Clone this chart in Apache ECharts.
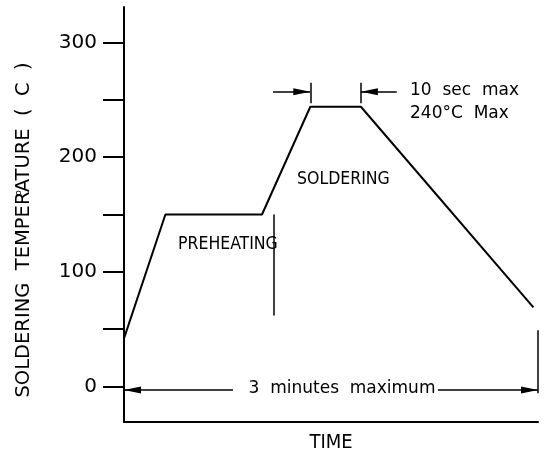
<!DOCTYPE html>
<html lang="en">
  <head>
    <meta charset="UTF-8" />
    <title>Soldering profile</title>
    <script src="https://cdn.jsdelivr.net/npm/echarts@6.0.0/dist/echarts.min.js"></script>
    <style>
      html, body { margin: 0; padding: 0; background: #fff; }
      #main { width: 547px; height: 454px; }
    </style>
  </head>
  <body>
    <div id="main"></div>
    <script>
      // profile (schematic time in seconds, temperature in C)
      const profileTime = [0, 18, 60, 81, 103, 178];
      const profileTemp = [42, 150, 150, 244, 244, 69];

      const yTicks = [0, 50, 100, 150, 200, 250, 300];
      const yLabels = [0, 100, 200, 300];

      // dimension lines: [x1, y1, x2, y2, arrow at end?]
      const dimLines = [
        [47.4, -3, 0, -3, true],
        [136.5, -3, 180, -3, true],
        [64.8, 257, 81, 257, true],
        [118.6, 257, 103, 257, true],
        [81, 247, 81, 265, false],
        [103, 247, 103, 265, false],
        [65, 150, 65, 62, false],
        [180, 49, 180, -6, false]
      ];

      const FONT = "DejaVu Sans";
      const NARROW = "'DejaVu Sans Condensed', 'Liberation Sans Narrow', 'DejaVu Sans'";

      let myChart = echarts.init(document.getElementById("main"));

      // arrow tip sits on the end point
      let markData = dimLines.map((d) => [
        { coord: [d[0], d[1]], symbol: "none" },
        d[4]
          ? { coord: [d[2], d[3]], symbol: "triangle", symbolSize: [7, 17], symbolOffset: [0, 8.5] }
          : { coord: [d[2], d[3]], symbol: "none" }
      ]);

      function label(text, x, y, size, family, align, rotation) {
        return {
          type: "text",
          x: x,
          y: y,
          rotation: rotation || 0,
          style: {
            text: text,
            fontFamily: family,
            fontSize: size,
            fill: "#000",
            align: align || "left",
            verticalAlign: "middle"
          }
        };
      }

      let options = {
        animation: false,
        backgroundColor: "#fff",
        grid: {
          left: 124,
          right: 9,
          top: 7,
          bottom: 32,
          containLabel: false,
          outerBoundsMode: "none"
        },
        xAxis: {
          type: "value",
          min: 0,
          max: 180,
          axisLine: { onZero: false, lineStyle: { color: "#000", width: 2 } },
          axisTick: { show: false },
          axisLabel: { show: false },
          splitLine: { show: false }
        },
        yAxis: {
          type: "value",
          min: -31,
          max: 331,
          axisLine: { show: true, onZero: false, lineStyle: { color: "#000", width: 2 } },
          axisTick: {
            show: true,
            customValues: yTicks,
            length: 21,
            lineStyle: { color: "#000", width: 2 }
          },
          axisLabel: {
            customValues: yLabels,
            margin: 27,
            fontFamily: FONT,
            fontSize: 20,
            color: "#000"
          },
          splitLine: { show: false }
        },
        graphic: [
          label("SOLDERING  TEMPERATURE  (  C  )", 24, 230, 19.5, FONT, "center", Math.PI / 2),
          label("o", 19, 193, 9, FONT, "center", Math.PI / 2),
          label("TIME", 331, 443, 20, NARROW, "center"),
          label("PREHEATING", 178, 244, 17.5, NARROW),
          label("SOLDERING", 297, 179, 17.5, NARROW),
          label("10  sec  max", 410, 91, 17, FONT),
          label("240°C  Max", 410, 114, 17, FONT),
          label("3  minutes  maximum", 342, 389, 17, FONT, "center")
        ],
        series: [
          {
            type: "line",
            data: profileTime.map((t, i) => [t, profileTemp[i]]),
            showSymbol: false,
            lineStyle: { color: "#000", width: 2 },
            markLine: {
              silent: true,
              label: { show: false },
              lineStyle: { color: "#000", width: 1.5, type: "solid" },
              emphasis: { disabled: true },
              data: markData
            }
          }
        ]
      };

      myChart.setOption(options);
    </script>
  </body>
</html>
